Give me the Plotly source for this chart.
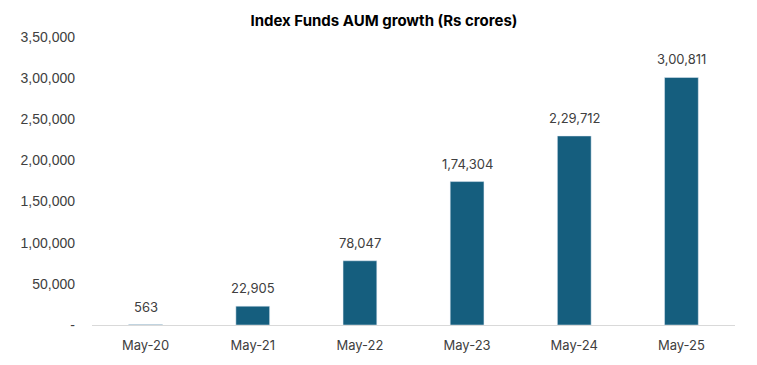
import plotly.graph_objects as go

categories = ["May-20", "May-21", "May-22", "May-23", "May-24", "May-25"]
aum_values = [563, 22905, 78047, 174304, 229712, 300811]
value_labels = ["563", "22,905", "78,047", "1,74,304", "2,29,712", "3,00,811"]
y_tick_values = [0, 50000, 100000, 150000, 200000, 250000, 300000, 350000]
y_tick_labels = ["-", "50,000", "1,00,000", "1,50,000", "2,00,000", "2,50,000", "3,00,000", "3,50,000"]

fig = go.Figure(go.Bar(
    x=categories, y=aum_values,
    marker=dict(color="#155E7E"),
    cliponaxis=False,
))

for cat, val, lab in zip(categories, aum_values, value_labels):
    fig.add_annotation(x=cat, y=val, text=lab, showarrow=False,
                       yanchor="bottom", yshift=8,
                       font=dict(family="Inter, Open Sans, sans-serif", size=13, color="#404040"))

fig.update_layout(
    width=749, height=357,
    margin=dict(l=79, r=22, t=29, b=39),
    paper_bgcolor="white", plot_bgcolor="white",
    bargap=0.685,
    showlegend=False,
    title=dict(text="<b>Index Funds AUM growth (Rs crores)</b>", x=0.502, xanchor="center",
               y=0.965, yanchor="middle",
               font=dict(family="Inter, sans-serif", size=15, color="#000000")),
)
fig.update_xaxes(showline=True, linecolor="#D9D9D9", linewidth=1, ticks="",
                 ticklabelstandoff=8,
                 tickfont=dict(family="Inter, Open Sans, sans-serif", size=13, color="#404040"),
                 showgrid=False)
fig.update_yaxes(range=[0, 350000], tickvals=y_tick_values, ticktext=y_tick_labels,
                 showgrid=False, zeroline=False, showline=False, ticks="",
                 ticklabelstandoff=16,
                 tickfont=dict(family="Liberation Sans, Arial, sans-serif", size=14, color="#404040"))

fig.write_html("out.html")
